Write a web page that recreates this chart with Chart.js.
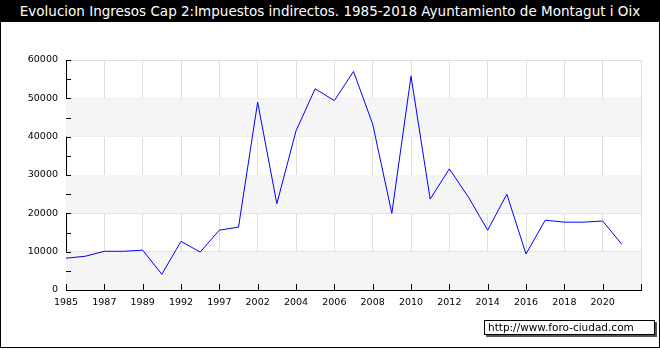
<!DOCTYPE html>
<html>
<head>
<meta charset="utf-8">
<script src="https://cdn.jsdelivr.net/npm/chart.js@4/dist/chart.umd.min.js"></script>
<style>
  html, body { margin: 0; padding: 0; background: #fff; }
  #wrap { position: relative; width: 660px; height: 350px; overflow: hidden; }
  #frame { position: absolute; left: 0; top: 0; width: 658px; height: 347px; border: 1px solid #000; border-top: none; }
  #title { position: absolute; left: 0; top: 0; width: 660px; height: 22px; background: #000; color: #fff;
           font: 13.5px "DejaVu Sans", sans-serif; line-height: 23px; text-align: center; white-space: nowrap; }
  #chartBox { position: absolute; left: 0; top: 0; width: 660px; height: 350px; }
  #marca { position: absolute; left: 484px; top: 320px; width: 166px; height: 13px; border: 1px solid #000;
           background: #fff; box-shadow: 2px 2px 0 #555; font: 10.5px "DejaVu Sans", sans-serif; line-height: 13px;
           padding-left: 3px; color: #000; }
</style>
</head>
<body>
<div id="wrap">
  <div id="frame"></div>
  <div id="chartBox"><canvas id="grafico" width="660" height="350"></canvas></div>
  <div id="title">Evolucion Ingresos Cap 2:Impuestos indirectos. 1985-2018 Ayuntamiento de Montagut i Oix</div>
  <div id="marca">http://www.foro-ciudad.com</div>
</div>
<script>
	//años (categorias del eje x)
	var anios = ['1985','1986','1987','1988','1989','1991','1992','1995','1997','2000',
	             '2002','2003','2004','2005','2006','2007','2008','2009','2010','2011',
	             '2012','2013','2014','2015','2016','2017','2018','2019','2020','2021',''];

	//ingresos
	var ingresos = [8300, 8800, 10100, 10100, 10400, 4100, 12700, 9900, 15600, 16400,
	                49000, 22500, 41500, 52500, 49400, 57000, 43300, 20000, 55800, 23700,
	                31600, 24200, 15600, 25000, 9400, 18200, 17700, 17700, 18000, 11900, null];

	//eje y
	var yMin = 0, yMax = 60000, yPaso = 10000;

	var fuente = { family: 'DejaVu Sans', size: 9.5 };

	//bandas grises + marcas de los ejes
	var fondoPlugin = {
		id: 'fondo',
		beforeDatasetsDraw: function(chart) {
			var c = chart.ctx, a = chart.chartArea, y = chart.scales.y;
			c.save();
			c.fillStyle = '#f5f5f5';
			for (var v = yMin; v < yMax; v += 2 * yPaso) {
				var t = y.getPixelForValue(v + yPaso), b = y.getPixelForValue(v);
				c.fillRect(a.left, t, a.right - a.left, b - t);
			}
			c.restore();
		},
		afterDraw: function(chart) {
			var c = chart.ctx, a = chart.chartArea, y = chart.scales.y, x = chart.scales.x;
			c.save();
			c.strokeStyle = '#000';
			c.lineWidth = 1;
			c.beginPath();
			for (var v = yMin; v <= yMax; v += yPaso / 2) {
				var py = Math.round(y.getPixelForValue(v)) + 0.5;
				c.moveTo(a.left, py); c.lineTo(a.left + 5, py);
			}
			for (var i = 0; i < anios.length; i += 2) {
				var px = Math.round(x.getPixelForValue(i)) + 0.5;
				c.moveTo(px, a.bottom); c.lineTo(px, a.bottom - 6);
			}
			c.stroke();
			c.restore();
		}
	};

	var data = {
		labels: anios,
		datasets: [{
			data: ingresos,
			borderColor: '#0000ff',
			borderWidth: 1,
			pointRadius: 0,
			fill: false,
			tension: 0
		}]
	};

	var config = {
		type: 'line',
		data: data,
		plugins: [fondoPlugin],
		options: {
			responsive: false,
			animation: false,
			layout: { padding: { top: 60, right: 19, bottom: 40, left: 0 } },
			plugins: { legend: { display: false }, tooltip: { enabled: false } },
			scales: {
				x: {
					type: 'category',
					offset: false,
					afterFit: function(s) { s.height = 20; },
					grid: {
						color: function(ctx) { return ctx.index % 2 ? 'rgba(0,0,0,0)' : '#dddddd'; },
						drawTicks: false
					},
					border: { color: '#000', width: 1 },
					ticks: {
						autoSkip: false,
						maxRotation: 0,
						padding: 7,
						color: '#000',
						font: fuente,
						callback: function(val, i) { return i % 2 ? '' : anios[i]; }
					}
				},
				y: {
					min: yMin,
					max: yMax,
					afterFit: function(s) { s.width = 66; },
					grid: { color: '#dddddd', drawTicks: false },
					border: { color: '#000', width: 1 },
					ticks: {
						stepSize: yPaso, padding: 8, color: '#000', font: fuente,
						callback: function(v) { return String(v); }
					}
				}
			}
		}
	};

	var ctx1 = document.getElementById('grafico').getContext('2d');
	new Chart(ctx1, config);
</script>
</body>
</html>
